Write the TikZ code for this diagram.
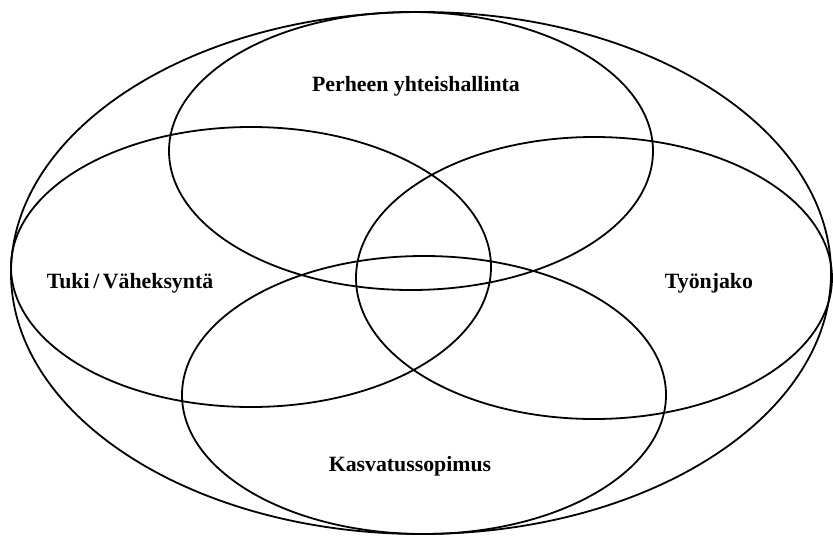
\documentclass[tikz,border=0pt]{standalone}
\usepackage{fontspec}
\setmainfont{Liberation Serif}
\usepackage{tikz}

\tikzset{
  ring/.style={line width=1.8pt},
  label/.style={font=\bfseries\fontsize{21.8}{26}\selectfont}
}

\begin{document}
\begin{tikzpicture}[x=1pt,y=-1pt]
          \useasboundingbox (0,0) rectangle (833,538);
          \draw[ring] (421,273) ellipse [x radius=410pt, y radius=261pt];
          \draw[ring] (411,151) ellipse [x radius=242pt, y radius=139pt];
          \draw[ring] (251,267) ellipse [x radius=240pt, y radius=140pt];
          \draw[ring] (594,278) ellipse [x radius=238pt, y radius=141pt];
          \draw[ring] (424,395) ellipse [x radius=242pt, y radius=139pt];
          \node[label] (perhe) at (416,86) {Perheen yhteishallinta};
          \node[label] (tuki) at (130,283) {Tuki\,/\,Väheksyntä};
          \node[label] (tyo) at (709,283) {Työnjako};
          \node[label] (kasvatus) at (410,466) {Kasvatussopimus};
        \end{tikzpicture}
\end{document}
